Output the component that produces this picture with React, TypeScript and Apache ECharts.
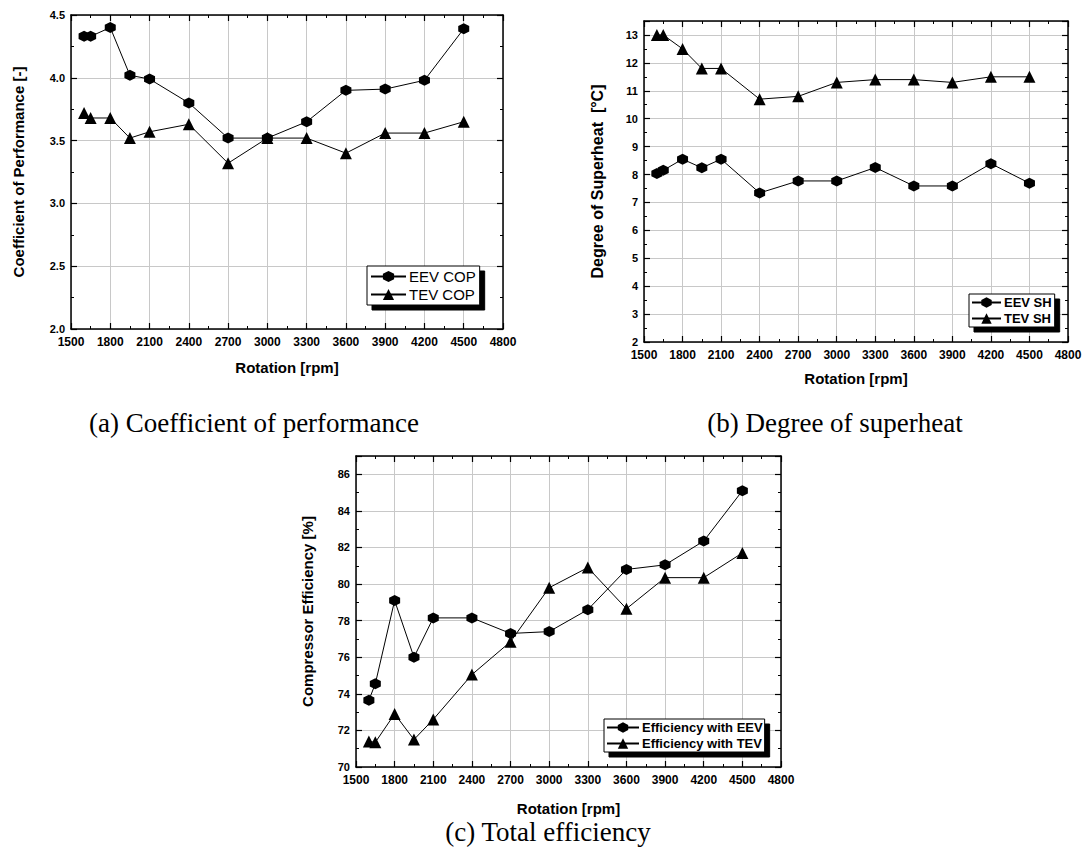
import React, { useEffect, useRef } from "react";
import * as echarts from "echarts";

const rpm = [1600, 1650, 1800, 1950, 2100, 2400, 2700, 3000, 3300, 3600, 3900, 4200, 4500];
const xTicks = [1500, 1800, 2100, 2400, 2700, 3000, 3300, 3600, 3900, 4200, 4500, 4800];

const eevCop = [4.33, 4.33, 4.4, 4.02, 3.99, 3.8, 3.52, 3.52, 3.65, 3.9, 3.91, 3.98, 4.39];
const tevCop = [3.72, 3.68, 3.68, 3.52, 3.57, 3.63, 3.32, 3.52, 3.52, 3.4, 3.56, 3.56, 3.65];

const eevSh = [8.04, 8.15, 8.55, 8.24, 8.55, 7.34, 7.77, 7.77, 8.25, 7.59, 7.59, 8.39, 7.69];
const tevSh = [13.0, 13.0, 12.5, 11.8, 11.8, 10.7, 10.8, 11.3, 11.4, 11.4, 11.3, 11.5, 11.5];

const eevEff = [73.65, 74.55, 79.1, 76.0, 78.15, 78.15, 77.3, 77.4, 78.6, 80.8, 81.05, 82.35, 85.1];
const tevEff = [71.4, 71.35, 72.9, 71.5, 72.6, 75.05, 76.85, 79.8, 80.9, 78.65, 80.35, 80.35, 81.7];

const captions = ["(a) Coefficient of performance", "(b) Degree of superheat", "(c) Total efficiency"];

const HEX = "path://M0,-10 L8.66,-5 L8.66,5 L0,10 L-8.66,5 L-8.66,-5 Z";
const SANS = "Liberation Sans, Arial, sans-serif";

const grids = [
  { left: 71, top: 15, width: 432, height: 314 },
  { left: 644, top: 21, width: 424, height: 321 },
  { left: 356, top: 456, width: 425, height: 311 },
];

const yCfg = [
  { min: 2.0, max: 4.5, interval: 0.5, name: "Coefficient of Performance [-]", gap: 45, size: 15, fmt: (v: number) => v.toFixed(1) },
  { min: 2, max: 13.5, interval: 1, name: "Degree of Superheat  [°C]", gap: 39, size: 16, fmt: (v: number) => (v > 13 ? "" : String(v)) },
  { min: 70, max: 87, interval: 2, name: "Compressor Efficiency [%]", gap: 41, size: 15, fmt: (v: number) => (v > 86 ? "" : String(v)) },
];
const xNameGap = [31, 29, 34];

const legendCfg = [
  { names: ["EEV COP", "TEV COP"], left: 367, top: 266, itemWidth: 35, fontSize: 15, bold: false, padding: [3, 4, 3, 3], itemHeight: 14 },
  { names: ["EEV SH", "TEV SH"], left: 969, top: 294, itemWidth: 29, fontSize: 13, bold: true, padding: [2, 3, 2, 2], itemHeight: 13 },
  { names: ["Efficiency with EEV", "Efficiency with TEV"], left: 604, top: 719, itemWidth: 32, fontSize: 13, bold: true, padding: [2, 2, 2, 2], itemHeight: 13 },
];

const dataSets = [
  [eevCop, tevCop],
  [eevSh, tevSh],
  [eevEff, tevEff],
];

export default function App() {
  const ref = useRef<HTMLDivElement>(null);
  useEffect(() => {
    if (!ref.current) return;
    const chart = echarts.init(ref.current, null, { renderer: "svg" });
    const xAxis: any[] = [];
    const yAxis: any[] = [];
    const series: any[] = [];
    const legend: any[] = [];
    const axisLine = { show: true, onZero: false, lineStyle: { color: "#000", width: 1.5 } };
    const tick = { show: true, inside: true, length: 6, lineStyle: { color: "#000", width: 1.2 } };
    const minorTick = { show: true, splitNumber: 2, length: 3, lineStyle: { color: "#000", width: 1 } };
    grids.forEach((g, i) => {
      const xmin = xTicks[0];
      const xmax = xTicks[xTicks.length - 1];
      xAxis.push({
        type: "value", gridIndex: i, min: xmin, max: xmax, interval: 300, position: "bottom",
        name: "Rotation [rpm]", nameLocation: "middle", nameGap: xNameGap[i],
        nameTextStyle: { fontFamily: SANS, fontWeight: "bold", fontSize: 15, color: "#000" },
        axisLine, axisTick: tick, minorTick,
        axisLabel: { fontFamily: SANS, fontWeight: "bold", fontSize: 12, color: "#000", margin: 7, formatter: (v: number) => String(v) },
        splitLine: { show: true, lineStyle: { color: "#c8c8c8", width: 1 } },
      });
      xAxis.push({
        type: "value", gridIndex: i, min: xmin, max: xmax, interval: 300, position: "top",
        axisLine, axisTick: tick, minorTick, axisLabel: { show: false }, splitLine: { show: false },
      });
      const y = yCfg[i];
      yAxis.push({
        type: "value", gridIndex: i, min: y.min, max: y.max, interval: y.interval, position: "left",
        name: y.name, nameLocation: "middle", nameGap: y.gap,
        nameTextStyle: { fontFamily: SANS, fontWeight: "bold", fontSize: y.size, color: "#000" },
        axisLine, axisTick: tick, minorTick,
        axisLabel: { fontFamily: SANS, fontWeight: "bold", fontSize: 11, color: "#000", margin: 6, formatter: y.fmt },
        splitLine: { show: true, lineStyle: { color: "#c8c8c8", width: 1 } },
      });
      yAxis.push({
        type: "value", gridIndex: i, min: y.min, max: y.max, interval: y.interval, position: "right",
        axisLine, axisTick: tick, minorTick, axisLabel: { show: false }, splitLine: { show: false },
      });
      const lg = legendCfg[i];
      const [a, b] = dataSets[i];
      series.push({
        type: "line", name: lg.names[0], xAxisIndex: i * 2, yAxisIndex: i * 2,
        data: rpm.map((r, k) => [r, a[k]]), symbol: HEX, symbolSize: 11,
        lineStyle: { color: "#000", width: 1 }, itemStyle: { color: "#000" },
      });
      series.push({
        type: "line", name: lg.names[1], xAxisIndex: i * 2, yAxisIndex: i * 2,
        data: rpm.map((r, k) => [r, b[k]]), symbol: "triangle", symbolSize: 12,
        lineStyle: { color: "#000", width: 1 }, itemStyle: { color: "#000" },
      });
      legend.push({
        data: lg.names, orient: "vertical", left: lg.left, top: lg.top,
        itemWidth: lg.itemWidth, itemHeight: lg.itemHeight, itemGap: 3, padding: lg.padding,
        backgroundColor: "#fff", borderColor: "#000", borderWidth: 1,
        shadowColor: "#000", shadowBlur: 0, shadowOffsetX: 5, shadowOffsetY: 5,
        selectedMode: false,
        textStyle: { fontFamily: SANS, fontSize: lg.fontSize, fontWeight: lg.bold ? "bold" : "normal", color: "#000", padding: [0, 0, 0, -2] },
      });
    });
    const captionPos = [
      { x: 254, y: 423 },
      { x: 835, y: 423 },
      { x: 548, y: 832 },
    ];
    const graphic = captions.map((c, i) => ({
      type: "text", x: captionPos[i].x, y: captionPos[i].y,
      style: { text: c, fontFamily: "Liberation Serif, Times New Roman, serif", fontSize: 27, fill: "#000", align: "center", verticalAlign: "middle" },
    }));
    chart.setOption({
      animation: false,
      backgroundColor: "#fff",
      grid: grids,
      xAxis, yAxis, series, legend, graphic,
    });
    return () => chart.dispose();
  }, []);
  return <div ref={ref} style={{ position: "absolute", left: 0, top: 0, width: 1088, height: 852 }} />;
}
